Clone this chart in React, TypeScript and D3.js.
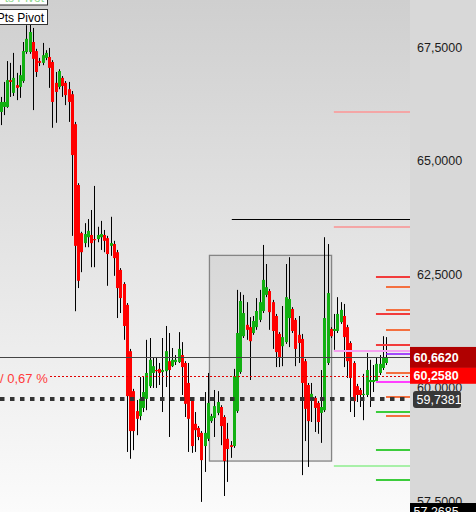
import React, { useEffect, useRef } from 'react';
import * as d3 from 'd3';

// candle data (one value per bar, left to right)
const opens = [
  66.07, 66.18, 66.18, 66.77, 66.49, 66.66, 66.62, 66.75, 67.39, 67.39, 67.61, 67.41, 67.19, 67.15, 67.26, 67.28, 67.17, 66.71, 66.62, 66.82, 66.71, 66.57,
  66.46, 65.80, 64.46, 63.40, 63.18, 63.31, 63.36, 63.27, 63.27, 63.31,
  63.36, 63.29, 63.12, 63.16, 62.98, 62.59, 62.28, 61.82, 60.80, 59.92,
  59.48, 59.37, 59.55, 59.75, 60.03, 60.32, 60.385, 60.41, 60.34, 60.36,
  60.58, 60.47, 60.56, 60.56, 60.715, 60.54, 60.10, 59.725, 59.20, 59.11,
  59.00, 58.71, 58.87, 59.26, 59.33, 59.44, 59.57, 59.35, 58.87, 58.73,
  58.71, 59.48, 60.34, 61.13, 61.38, 61.33, 61.20, 61.33, 61.49, 61.685,
  62.04, 62.125, 61.88, 61.575, 61.18, 60.91, 61.00, 61.53, 61.73, 61.49,
  61.16, 61.07, 60.58, 60.055, 59.77, 59.77, 59.66, 59.44, 59.50, 60.54,
  61.29, 61.245, 61.245, 61.44, 61.575, 61.33, 60.98, 60.54, 60.03, 59.945,
  59.835, 59.835, 60.12, 60.12, 60.14, 60.32, 60.43, 60.54,
];
const highs = [
  66.40, 66.73, 67.19, 67.15, 67.37, 66.93, 67.10, 67.61, 67.98, 68.03, 67.92, 67.46, 67.26, 67.59, 67.43, 67.48, 67.21, 66.95, 67.01, 66.86, 66.75, 66.73,
  66.53, 65.85, 64.50, 63.43, 63.62, 63.71, 63.91, 64.44, 63.54, 63.67,
  63.47, 63.34, 63.76, 63.23, 63.03, 62.63, 62.32, 61.86, 60.85, 59.97,
  59.725, 60.23, 60.23, 61.05, 61.09, 60.67, 60.65, 60.54, 61.09, 61.355,
  61.20, 60.87, 60.715, 61.22, 61.00, 60.58, 60.54, 59.77, 59.46, 59.15,
  59.04, 59.90, 60.32, 59.42, 59.945, 59.92, 59.61, 59.39, 59.22, 58.82,
  60.41, 62.15, 62.10, 62.04, 61.88, 61.55, 61.575, 61.97, 62.15, 63.14,
  62.72, 62.17, 61.93, 61.62, 61.22, 61.795, 62.72, 62.87, 61.77, 61.53,
  61.575, 61.18, 60.63, 60.10, 60.10, 59.81, 59.70, 60.385, 63.31, 63.16,
  61.33, 61.62, 61.99, 61.88, 61.84, 61.38, 61.02, 60.58, 60.08, 59.99,
  60.30, 60.76, 60.61, 60.495, 60.67, 60.715, 61.13, 61.11,
];
const lows = [
  65.78, 66.00, 66.16, 66.40, 66.42, 66.33, 66.38, 66.71, 67.35, 67.35, 66.11, 66.84, 67.08, 67.10, 67.21, 66.60, 65.72, 65.83, 66.57, 66.40, 66.22, 65.85,
  63.34, 61.68, 62.19, 62.54, 63.09, 63.09, 62.65, 62.65, 63.20, 63.03,
  62.98, 62.24, 62.90, 62.46, 61.53, 61.64, 61.05, 58.58, 58.43, 58.62,
  58.95, 59.28, 59.46, 59.50, 59.99, 59.99, 59.99, 60.055, 59.46, 60.01,
  58.91, 60.45, 60.495, 60.54, 59.835, 59.35, 58.58, 58.56, 58.58, 58.84,
  57.48, 58.14, 58.82, 59.22, 58.91, 59.39, 58.73, 57.61, 57.92, 58.45,
  58.67, 59.44, 60.30, 61.09, 61.05, 60.165, 61.16, 61.27, 61.44, 61.64,
  61.99, 61.27, 60.85, 60.45, 60.45, 60.47, 60.96, 60.89, 61.20, 60.47,
  60.54, 58.07, 58.82, 58.25, 59.24, 59.02, 58.98, 58.78, 59.46, 60.495,
  61.09, 60.83, 61.20, 61.40, 60.45, 60.21, 59.46, 59.35, 59.68, 59.57,
  59.28, 59.79, 59.57, 59.90, 60.10, 60.275, 60.385, 60.495,
];
const closes = [
  66.29, 66.29, 66.77, 66.73, 66.82, 66.60, 66.88, 67.41, 67.68, 67.83, 67.24, 66.95, 67.15, 67.32, 67.37, 67.04, 66.29, 66.51, 66.97, 66.64, 66.44, 66.29,
  65.12, 63.12, 62.35, 62.98, 63.38, 63.45, 63.18, 63.25, 63.36, 63.38,
  63.23, 62.94, 63.18, 62.85, 62.19, 61.97, 61.355, 59.81, 59.04, 59.04,
  59.31, 59.75, 59.90, 60.32, 60.61, 60.47, 60.36, 60.32, 60.385, 60.80,
  60.385, 60.61, 60.61, 60.85, 60.45, 59.64, 59.31, 58.71, 59.06, 58.91,
  58.40, 59.00, 59.66, 59.37, 59.59, 59.68, 59.15, 58.38, 58.645, 58.69,
  60.25, 61.20, 61.905, 61.64, 61.27, 61.02, 61.465, 61.685, 61.88, 62.37,
  62.21, 61.66, 61.245, 60.78, 60.67, 61.11, 61.99, 61.95, 61.245, 60.85,
  60.98, 60.10, 59.53, 59.26, 59.86, 59.55, 59.24, 59.57, 61.53, 62.08,
  61.13, 61.29, 61.62, 61.71, 61.11, 60.58, 60.21, 59.70, 59.835, 59.835,
  59.86, 60.385, 60.165, 60.165, 60.52, 60.52, 60.65, 60.662,
];

const axisTicks = [57.5, 60, 62.5, 65, 67.5];

// levels on the right side
const redLevels = [62.44, 61.62, 60.94];
const orangeLevels = [62.22, 61.70, 61.27, 60.33, 59.80, 59.38];
const greenLevels = [59.45, 58.62, 57.96];
const pinkLevels = [66.07, 63.54];
const paleMagentaLevel = 60.80;
const paleGreenLevel = 58.26;
const purpleLevel = 60.74;
const magentaLevel = 60.13;
const blackLevel = 63.71;

const lastPrice = 60.662;
const bidPrice = 60.258;
const dashedPrice = 59.7381;
const lowPrice = 57.2685;

// range box: candle index span and price span
const boxIdx = [64.5, 102.2];
const boxPrice = [58.38, 62.91];

const W = 476;
const H = 512;
const PW = 410;
const FONT = '"Liberation Sans", Arial, sans-serif';

const fmt = (v: number) => v.toFixed(4).replace('.', ',');

export default function App() {
  const svgRef = useRef<SVGSVGElement>(null);

  useEffect(() => {
    if (!svgRef.current) return;
    const svg = d3.select(svgRef.current);
    svg.selectAll('*').remove();

    const x = d3.scaleLinear().domain([0, opens.length - 1]).range([0.5, 386]);
    const y = d3.scaleLinear().domain([60, 67.5]).range([387.5, 47]);

    // background
    const grad = svg.append('defs').append('linearGradient')
      .attr('id', 'bg').attr('x1', 0).attr('y1', 0).attr('x2', 0).attr('y2', 1);
    grad.append('stop').attr('offset', '0%').attr('stop-color', '#cfcfcf');
    grad.append('stop').attr('offset', '100%').attr('stop-color', '#fbfbfb');
    svg.append('rect').attr('width', PW).attr('height', H).attr('fill', 'url(#bg)');
    svg.append('rect').attr('x', PW).attr('width', W - PW).attr('height', H).attr('fill', '#d8d8d8');

    // range box
    svg.append('rect')
      .attr('x', x(boxIdx[0]))
      .attr('y', y(boxPrice[1]))
      .attr('width', x(boxIdx[1]) - x(boxIdx[0]))
      .attr('height', y(boxPrice[0]) - y(boxPrice[1]))
      .attr('fill', 'rgba(0,0,0,0.055)')
      .attr('stroke', '#858585')
      .attr('stroke-width', 1.3);

    // candles
    const g = svg.append('g');
    opens.forEach((o, i) => {
      const c = closes[i];
      const cx = Math.round(x(i));
      const hi = Math.max(highs[i], o, c);
      const lo = Math.min(lows[i], o, c);
      g.append('line')
        .attr('x1', cx + 0.5).attr('x2', cx + 0.5)
        .attr('y1', y(hi)).attr('y2', y(lo))
        .attr('stroke', '#000').attr('stroke-width', 1);
      const top = y(Math.max(o, c));
      const hgt = Math.max(1.2, Math.abs(y(o) - y(c)));
      g.append('rect')
        .attr('x', cx - 1).attr('width', 3)
        .attr('y', top).attr('height', hgt)
        .attr('fill', c >= o ? '#12b012' : '#ff0000');
    });

    const hline = (p: number, x1: number, color: string, w = 2, dash?: string) => {
      const yy = Math.round(y(p)) + (w % 2 === 1 ? 0.5 : 0);
      const l = svg.append('line')
        .attr('x1', x1).attr('x2', PW)
        .attr('y1', yy).attr('y2', yy)
        .attr('stroke', color).attr('stroke-width', w);
      if (dash) l.attr('stroke-dasharray', dash);
    };

    // lines over the candles
    hline(blackLevel, x(71.4), '#000', 1);
    pinkLevels.forEach(p => hline(p, x(102.9), '#f4a6a6', 2));
    hline(paleMagentaLevel, x(102.9), '#f6a0f0', 2);
    hline(paleGreenLevel, x(102.9), '#a8f0a8', 2);
    redLevels.forEach(p => hline(p, x(115.9), '#f23c3c', 2));
    orangeLevels.forEach(p => hline(p, x(119), '#f47040', 2));
    greenLevels.forEach(p => hline(p, x(115.9), '#3ccc3c', 2));
    hline(purpleLevel, x(119), '#8a10ff', 1.5);
    hline(magentaLevel, x(115.9), '#ff40ff', 2);

    hline(lastPrice, 0, '#444', 1);
    hline(bidPrice, 50, '#e00000', 1, '2 2');
    hline(dashedPrice, 0, '#333', 4, '4.5 5.5');

    // left side texts
    svg.append('text')
      .attr('x', 0).attr('y', 383)
      .attr('font-family', FONT).attr('font-size', 13)
      .attr('fill', '#ff3a3a')
      .text('/ 0,67 %');

    svg.append('rect').attr('x', -1).attr('y', -10.5).attr('width', 48.5).attr('height', 15.5)
      .attr('fill', '#fff').attr('stroke', '#333').attr('stroke-width', 1);
    svg.append('text').attr('x', 44).attr('y', 1.5).attr('text-anchor', 'end')
      .attr('font-family', FONT).attr('font-size', 12).attr('fill', '#8fd88f').text('Pts Pivot');
    svg.append('rect').attr('x', -1).attr('y', 9.5).attr('width', 48.5).attr('height', 15)
      .attr('fill', '#fff').attr('stroke', '#333').attr('stroke-width', 1);
    svg.append('text').attr('x', 44).attr('y', 21.5).attr('text-anchor', 'end')
      .attr('font-family', FONT).attr('font-size', 12).attr('fill', '#000').text('Pts Pivot');

    // price axis
    const axis = svg.append('g')
      .attr('transform', `translate(${PW},0)`)
      .call(d3.axisRight(y).tickValues(axisTicks).tickSize(0).tickPadding(7)
        .tickFormat(d => fmt(+d)));
    axis.select('.domain').remove();
    axis.attr('font-family', FONT).attr('font-size', 12.5);
    axis.selectAll('text').attr('fill', '#1c1c1c');

    const tag = (p: number, fill: string, x0: number, w: number, h: number, rx: number, bold: boolean) => {
      const cy = y(p);
      svg.append('rect')
        .attr('x', x0).attr('y', cy - h / 2).attr('width', w).attr('height', h)
        .attr('rx', rx).attr('fill', fill);
      svg.append('text')
        .attr('x', x0 + 3.5).attr('y', cy).attr('dy', '0.36em')
        .attr('font-family', FONT).attr('font-size', 12.5)
        .attr('font-weight', bold ? 'bold' : 'normal')
        .attr('fill', '#fff')
        .text(fmt(p));
    };
    tag(lastPrice, '#b00000', PW, W - PW, 21, 0, true);
    tag(bidPrice, '#ff0000', PW, W - PW, 16, 0, true);
    tag(dashedPrice, '#383838', PW + 3, 48, 17, 3, false);
    tag(lowPrice, '#000', PW, W - PW, 17, 0, false);
  }, []);

  return (
    <svg
      ref={svgRef}
      width={W}
      height={H}
      style={{ position: 'absolute', left: 0, top: 0, display: 'block' }}
    />
  );
}
